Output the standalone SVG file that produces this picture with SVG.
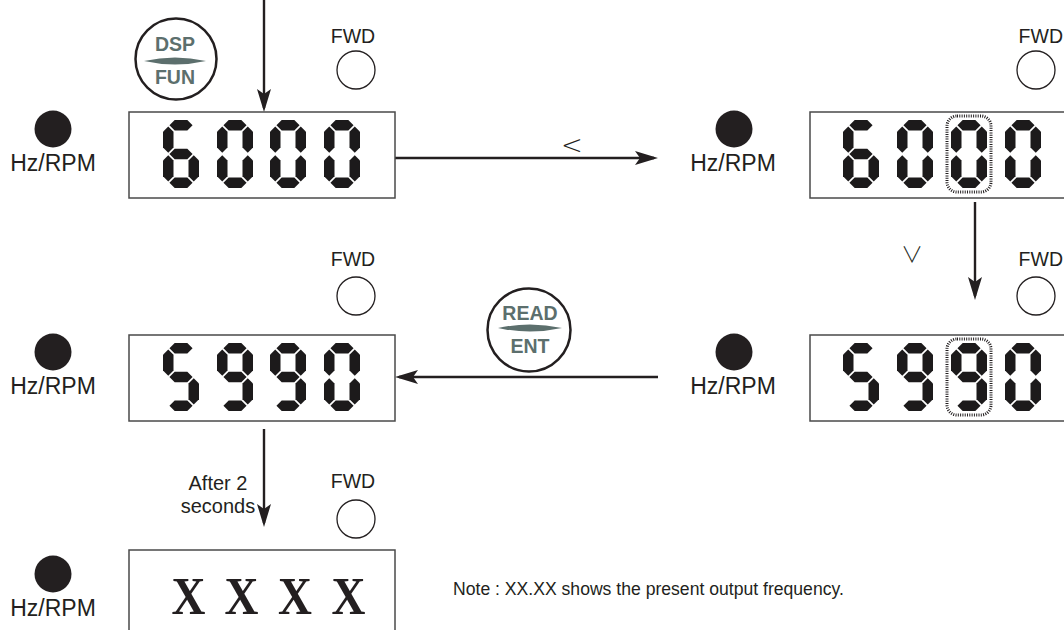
<svg xmlns="http://www.w3.org/2000/svg" width="1064" height="630" viewBox="0 0 1064 630">
<style>
.lbl{font-family:"Liberation Sans",Arial,sans-serif;font-size:23px;fill:#231f20}
.fwd{font-family:"Liberation Sans",Arial,sans-serif;font-size:19.5px;fill:#231f20}
.sm{font-family:"Liberation Sans",Arial,sans-serif;font-size:20px;fill:#231f20}
.note{font-family:"Liberation Sans",Arial,sans-serif;font-size:17.6px;fill:#231f20}
.chev{font-family:"DejaVu Sans",sans-serif;font-size:26px;font-weight:200;fill:#231f20;text-anchor:middle}
.vee{font-family:"Noto Sans CJK JP","DejaVu Sans",sans-serif;font-size:22px;font-weight:300;fill:#231f20;text-anchor:middle}
.key{font-family:"Liberation Sans",Arial,sans-serif;font-size:19.5px;font-weight:bold;fill:#5c6f6d;text-anchor:middle}
.box{fill:#fff;stroke:#4a4a4a;stroke-width:1.5}
.led{fill:#fff;stroke:#231f20;stroke-width:1.3}
.dot{fill:#231f20}
.btn{fill:#fff;stroke:#231f20;stroke-width:2.5}
.conn{fill:none;stroke:#231f20;stroke-width:2.4}
.seg{fill:#1c1a1b}
.blink{fill:none;stroke:#231f20;stroke-width:3;stroke-dasharray:1 1.3}
</style>
<defs>
<marker id="ah" markerUnits="userSpaceOnUse" viewBox="0 0 23 14" refX="19" refY="7" markerWidth="23" markerHeight="14" orient="auto">
<path d="M0,0 L23,7 L0,14 L5,7 Z" fill="#231f20"/>
</marker>
<path id="sa" class="seg" d="M6.45,5.25 L11.7,0 L24.3,0 L29.55,5.25 L24.3,10.5 L11.7,10.5Z"/>
<path id="sg" class="seg" d="M6.45,34 L11.7,28.75 L24.3,28.75 L29.55,34 L24.3,39.25 L11.7,39.25Z"/>
<path id="sd" class="seg" d="M6.45,62.75 L11.7,57.5 L24.3,57.5 L29.55,62.75 L24.3,68 L11.7,68Z"/>
<path id="sf" class="seg" d="M5.25,6.45 L10.5,11.7 L10.5,27.55 L5.25,32.8 L0,27.55 L0,11.7Z"/>
<path id="sb" class="seg" d="M30.75,6.45 L36,11.7 L36,27.55 L30.75,32.8 L25.5,27.55 L25.5,11.7Z"/>
<path id="se" class="seg" d="M5.25,35.2 L10.5,40.45 L10.5,56.3 L5.25,61.55 L0,56.3 L0,40.45Z"/>
<path id="sc" class="seg" d="M30.75,35.2 L36,40.45 L36,56.3 L30.75,61.55 L25.5,56.3 L25.5,40.45Z"/>
<g id="d0"><use href="#sa"/><use href="#sb"/><use href="#sc"/><use href="#sd"/><use href="#se"/><use href="#sf"/></g>
<g id="d6"><use href="#sa"/><use href="#sc"/><use href="#sd"/><use href="#se"/><use href="#sf"/><use href="#sg"/></g>
<g id="d5"><use href="#sa"/><use href="#sc"/><use href="#sd"/><use href="#sf"/><use href="#sg"/></g>
<g id="d9"><use href="#sa"/><use href="#sb"/><use href="#sc"/><use href="#sd"/><use href="#sf"/><use href="#sg"/></g>
</defs>
<rect width="1064" height="630" fill="#fff"/>

<g id="connectors">
<path class="conn" d="M264,0 V108" marker-end="url(#ah)"/>
<path class="conn" d="M395,158 H654" marker-end="url(#ah)"/>
<path class="conn" d="M975,202 V296" marker-end="url(#ah)"/>
<path class="conn" d="M658,377 H399" marker-end="url(#ah)"/>
<path class="conn" d="M264,429 V523" marker-end="url(#ah)"/>
<text class="chev" x="572" y="154">&lt;</text>
<text class="vee" x="912" y="262">∨</text>
<text class="sm" x="218" y="490" text-anchor="middle">After 2</text>
<text class="sm" x="218" y="513" text-anchor="middle">seconds</text>
</g>

<g id="key-dsp-fun">
<circle class="btn" cx="176" cy="59" r="40.5"/>
<text class="key" x="175" y="51">DSP</text>
<path d="M144,61 Q175,54 206,61 Q175,68 144,61Z" fill="#5c6f6d"/>
<text class="key" x="175" y="84">FUN</text>
</g>

<g id="key-read-ent">
<circle class="btn" cx="529" cy="330" r="41.5"/>
<text class="key" x="530" y="320">READ</text>
<path d="M498,328 Q530,321 562,328 Q530,335 498,328Z" fill="#5c6f6d"/>
<text class="key" x="530" y="353">ENT</text>
</g>

<g id="display-1">
<circle class="dot" cx="53" cy="129" r="18.5"/>
<text class="lbl" x="53" y="171" text-anchor="middle">Hz/RPM</text>
<text class="fwd" x="353" y="43" text-anchor="middle">FWD</text>
<circle class="led" cx="356" cy="70" r="19"/>
<rect class="box" x="129" y="112" width="266" height="86"/>
<use href="#d6" x="163" y="120"/><use href="#d0" x="217" y="120"/><use href="#d0" x="270" y="120"/><use href="#d0" x="324" y="120"/>
</g>

<g id="display-2">
<circle class="dot" cx="734" cy="129" r="18.5"/>
<text class="lbl" x="733" y="171" text-anchor="middle">Hz/RPM</text>
<text class="fwd" x="1063" y="43" text-anchor="end">FWD</text>
<circle class="led" cx="1036" cy="70" r="19"/>
<rect class="box" x="810" y="112" width="300" height="86"/>
<use href="#d6" x="843" y="120"/><use href="#d0" x="897" y="120"/><use href="#d0" x="951" y="120"/><use href="#d0" x="1005" y="120"/>
<rect class="blink" x="947" y="116" width="44" height="76" rx="10"/>
</g>

<g id="display-3">
<circle class="dot" cx="734" cy="352" r="18.5"/>
<text class="lbl" x="733" y="394" text-anchor="middle">Hz/RPM</text>
<text class="fwd" x="1063" y="266" text-anchor="end">FWD</text>
<circle class="led" cx="1036" cy="296" r="19"/>
<rect class="box" x="810" y="335" width="300" height="86"/>
<use href="#d5" x="843" y="343"/><use href="#d9" x="897" y="343"/><use href="#d9" x="951" y="343"/><use href="#d0" x="1005" y="343"/>
<rect class="blink" x="947" y="339" width="44" height="76" rx="10"/>
</g>

<g id="display-4">
<circle class="dot" cx="53" cy="352" r="18.5"/>
<text class="lbl" x="53" y="394" text-anchor="middle">Hz/RPM</text>
<text class="fwd" x="353" y="266" text-anchor="middle">FWD</text>
<circle class="led" cx="356" cy="296" r="19"/>
<rect class="box" x="129" y="335" width="266" height="86"/>
<use href="#d5" x="163" y="343"/><use href="#d9" x="217" y="343"/><use href="#d9" x="270" y="343"/><use href="#d0" x="324" y="343"/>
</g>

<g id="display-5">
<text class="fwd" x="353" y="488" text-anchor="middle">FWD</text>
<circle class="led" cx="356" cy="519" r="19"/>
<circle class="dot" cx="53" cy="574" r="18.5"/>
<text class="lbl" x="53" y="616" text-anchor="middle">Hz/RPM</text>
<rect class="box" x="129" y="550" width="266" height="100"/>
<text transform="translate(0,614) scale(1,1.12)" x="188.5 241.5 295 348.5" y="0" text-anchor="middle" style="font-family:'Liberation Serif','Times New Roman',serif;font-size:47px;font-weight:bold;fill:#231f20">XXXX</text>
</g>

<g id="note">
<text class="note" x="453" y="595">Note : XX.XX shows the present output frequency.</text>
</g>
</svg>
